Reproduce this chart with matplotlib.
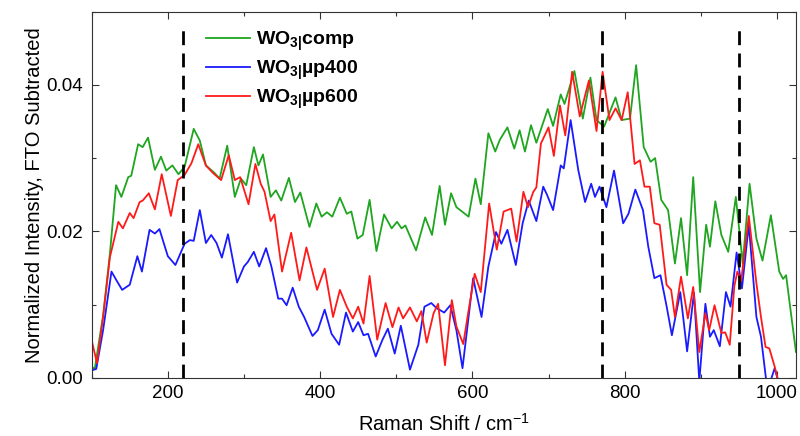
import numpy as np
import matplotlib
matplotlib.use("Agg")
import matplotlib.pyplot as plt
from matplotlib.ticker import MultipleLocator, FormatStrFormatter

plt.rcParams['font.family'] = ['Liberation Sans', 'DejaVu Sans']
plt.rcParams['mathtext.fontset'] = 'custom'
plt.rcParams['mathtext.rm'] = 'Liberation Sans'
plt.rcParams['mathtext.bf'] = 'Liberation Sans:bold'

# series (Raman shift in cm-1, normalized intensity)
compX = [100, 104, 115, 124, 132, 139, 148, 152, 161, 167, 174, 183, 191, 198, 206, 214, 222, 234,
         242, 250, 261, 268, 278, 288, 296, 303, 313, 319, 325, 335, 342, 349, 359, 367, 374, 386,
         395, 402, 409, 416, 426, 435, 441, 449, 456, 465, 474, 484, 494, 501, 507, 512, 526, 538,
         547, 557, 564, 572, 579, 595, 604, 611, 621, 630, 636, 646, 655, 662, 669, 677, 684, 699,
         706, 716, 721, 734, 745, 755, 763, 773, 788, 796, 807, 815, 825, 834, 840, 848, 857, 866,
         874, 882, 890, 899, 907, 912, 919, 927, 936, 946, 955, 964, 973, 981, 992, 1003, 1008,
         1012, 1019, 1025]
compY = [0.0015, 0.0012, 0.0085, 0.0170, 0.0263, 0.0247, 0.0274, 0.0276, 0.0319, 0.0315, 0.0328,
         0.0284, 0.0302, 0.0283, 0.0290, 0.0278, 0.0288, 0.0340, 0.0324, 0.0290, 0.0280, 0.0272,
         0.0317, 0.0247, 0.0272, 0.0263, 0.0315, 0.0290, 0.0305, 0.0247, 0.0256, 0.0242, 0.0273,
         0.0240, 0.0253, 0.0206, 0.0238, 0.0220, 0.0226, 0.0220, 0.0246, 0.0224, 0.0227, 0.0190,
         0.0195, 0.0243, 0.0173, 0.0223, 0.0204, 0.0213, 0.0204, 0.0208, 0.0174, 0.0219, 0.0195,
         0.0262, 0.0209, 0.0252, 0.0233, 0.0220, 0.0272, 0.0237, 0.0334, 0.0309, 0.0325, 0.0342,
         0.0313, 0.0338, 0.0309, 0.0345, 0.0321, 0.0367, 0.0344, 0.0387, 0.0374, 0.0419, 0.0354,
         0.0410, 0.0352, 0.0343, 0.0383, 0.0352, 0.0354, 0.0427, 0.0315, 0.0295, 0.0300, 0.0243,
         0.0229, 0.0156, 0.0218, 0.0140, 0.0274, 0.0117, 0.0209, 0.0179, 0.0241, 0.0195, 0.0172,
         0.0247, 0.0156, 0.0265, 0.0190, 0.0160, 0.0222, 0.0145, 0.0135, 0.0140, 0.0083, 0.0035]

up400X = [100, 106, 115, 126, 132, 140, 150, 160, 166, 176, 183, 189, 200, 210, 222, 229, 234, 242,
          250, 257, 264, 271, 279, 291, 300, 305, 313, 320, 329, 336, 345, 350, 356, 364, 372, 379,
          390, 397, 406, 415, 425, 434, 443, 450, 457, 463, 473, 482, 489, 498, 506, 518, 529, 537,
          546, 553, 563, 571, 579, 587, 595, 601, 612, 621, 631, 638, 646, 657, 666, 674, 684, 693,
          698, 706, 716, 720, 729, 739, 748, 756, 761, 767, 776, 786, 798, 805, 814, 824, 831, 839,
          847, 855, 862, 873, 882, 891, 898, 906, 912, 917, 925, 933, 939, 947, 954, 963, 973, 979,
          986, 992, 997, 1003]
up400Y = [0.0010, 0.0012, 0.0065, 0.0145, 0.0134, 0.0120, 0.0127, 0.0166, 0.0145, 0.0202, 0.0197,
          0.0203, 0.0166, 0.0154, 0.0183, 0.0188, 0.0187, 0.0229, 0.0184, 0.0195, 0.0184, 0.0164,
          0.0196, 0.0130, 0.0152, 0.0158, 0.0172, 0.0152, 0.0177, 0.0152, 0.0108, 0.0108, 0.0099,
          0.0123, 0.0097, 0.0083, 0.0057, 0.0065, 0.0093, 0.0060, 0.0045, 0.0089, 0.0063, 0.0076,
          0.0058, 0.0060, 0.0029, 0.0052, 0.0067, 0.0033, 0.0071, 0.0011, 0.0045, 0.0097, 0.0102,
          0.0095, 0.0089, 0.0099, 0.0065, 0.0013, 0.0083, 0.0136, 0.0083, 0.0152, 0.0199, 0.0183,
          0.0202, 0.0154, 0.0211, 0.0242, 0.0214, 0.0261, 0.0250, 0.0229, 0.0290, 0.0286, 0.0352,
          0.0284, 0.0240, 0.0265, 0.0247, 0.0261, 0.0233, 0.0283, 0.0211, 0.0224, 0.0257, 0.0229,
          0.0179, 0.0136, 0.0140, 0.0098, 0.0058, 0.0117, 0.0036, 0.0116, -0.0005, 0.0101, 0.0056,
          0.0065, 0.0043, 0.0117, 0.0097, 0.0171, 0.0122, 0.0209, 0.0083, 0.0056, -0.0005,
          -0.0003, 0.0013, -0.0010]

up600X = [100, 107, 115, 124, 135, 141, 150, 155, 163, 167, 175, 183, 192, 204, 213, 222, 231, 240,
          250, 259, 270, 280, 288, 295, 306, 315, 322, 327, 335, 340, 350, 362, 373, 382, 396, 406,
          417, 426, 435, 443, 450, 457, 465, 475, 486, 495, 503, 509, 518, 527, 533, 540, 549, 555,
          564, 573, 579, 588, 595, 603, 611, 622, 632, 641, 651, 658, 667, 673, 680, 684, 690, 695,
          700, 707, 715, 722, 731, 741, 753, 763, 771, 780, 788, 796, 804, 813, 820, 826, 833, 839,
          846, 855, 861, 866, 874, 883, 890, 898, 906, 911, 918, 927, 932, 938, 944, 948, 953, 963,
          973, 979, 985, 990, 997, 1003]
up600Y = [0.0051, 0.0020, 0.0083, 0.0165, 0.0213, 0.0204, 0.0225, 0.0218, 0.0240, 0.0242, 0.0252,
          0.0230, 0.0278, 0.0221, 0.0270, 0.0277, 0.0293, 0.0319, 0.0290, 0.0280, 0.0270, 0.0304,
          0.0270, 0.0274, 0.0237, 0.0292, 0.0265, 0.0254, 0.0214, 0.0223, 0.0145, 0.0198, 0.0133,
          0.0178, 0.0120, 0.0149, 0.0083, 0.0120, 0.0097, 0.0081, 0.0097, 0.0074, 0.0139, 0.0052,
          0.0102, 0.0069, 0.0096, 0.0081, 0.0096, 0.0077, 0.0091, 0.0048, 0.0088, 0.0101, 0.0017,
          0.0106, 0.0070, 0.0046, 0.0092, 0.0142, 0.0117, 0.0238, 0.0175, 0.0227, 0.0231, 0.0186,
          0.0254, 0.0233, 0.0254, 0.0260, 0.0320, 0.0331, 0.0342, 0.0303, 0.0372, 0.0331, 0.0418,
          0.0357, 0.0406, 0.0337, 0.0418, 0.0352, 0.0368, 0.0352, 0.0390, 0.0292, 0.0297, 0.0261,
          0.0261, 0.0211, 0.0209, 0.0127, 0.0120, 0.0083, 0.0138, 0.0081, 0.0124, 0.0035, 0.0088,
          0.0065, 0.0099, 0.0061, 0.0062, 0.0045, 0.0125, 0.0145, 0.0132, 0.0221, 0.0129, 0.0083,
          0.0042, 0.0040, 0.0015, -0.0010]

seriesLabels = [r'WO$_{\mathbf{3|}}$comp', r'WO$_{\mathbf{3|}}$µp400', r'WO$_{\mathbf{3|}}$µp600']
seriesColors = ['#1fa51f', '#1a1aff', '#ff1a1a']
markerLines = [220, 770, 950]

fig = plt.figure(figsize=(8, 4.36), dpi=100)
ax = fig.add_axes([0.1146, 0.1337, 0.8804, 0.8394])

for xs, ys, lab, col in zip([compX, up400X, up600X], [compY, up400Y, up600Y], seriesLabels, seriesColors):
    ax.plot(xs, ys, color=col, lw=1.3, label=lab, solid_joinstyle='round')

#dashed reference lines
for xv in markerLines:
    ax.plot([xv, xv], [0, 0.0485], color='black', lw=2.0, dashes=(5, 3))

ax.set_xlim(100, 1025)
ax.set_ylim(0, 0.05)
ax.xaxis.set_major_locator(MultipleLocator(200))
ax.xaxis.set_minor_locator(MultipleLocator(100))
ax.yaxis.set_major_locator(MultipleLocator(0.02))
ax.yaxis.set_minor_locator(MultipleLocator(0.01))
ax.yaxis.set_major_formatter(FormatStrFormatter('%.2f'))
ax.tick_params(which='both', direction='in', top=True, right=True, labelsize=13.5, width=0.8, color='#333333')
ax.tick_params(which='major', length=5)
ax.tick_params(which='minor', length=3)
ax.tick_params(axis='y', pad=6)
ax.tick_params(axis='x', pad=5)
for sp in ax.spines.values():
    sp.set_linewidth(0.8)
    sp.set_color('#333333')

ax.set_xlabel(r'Raman Shift / cm$^{-1}$', fontsize=14.5, labelpad=8)
ax.set_ylabel('Normalized Intensity, FTO Subtracted', fontsize=14.5, labelpad=2)

leg = ax.legend(loc='upper left', bbox_to_anchor=(0.137, 1.0), frameon=False,
                prop={'weight': 'bold', 'size': 14}, handlelength=2.3, handletextpad=0.3,
                labelspacing=0.28)

fig.savefig('out.png', dpi=100)
